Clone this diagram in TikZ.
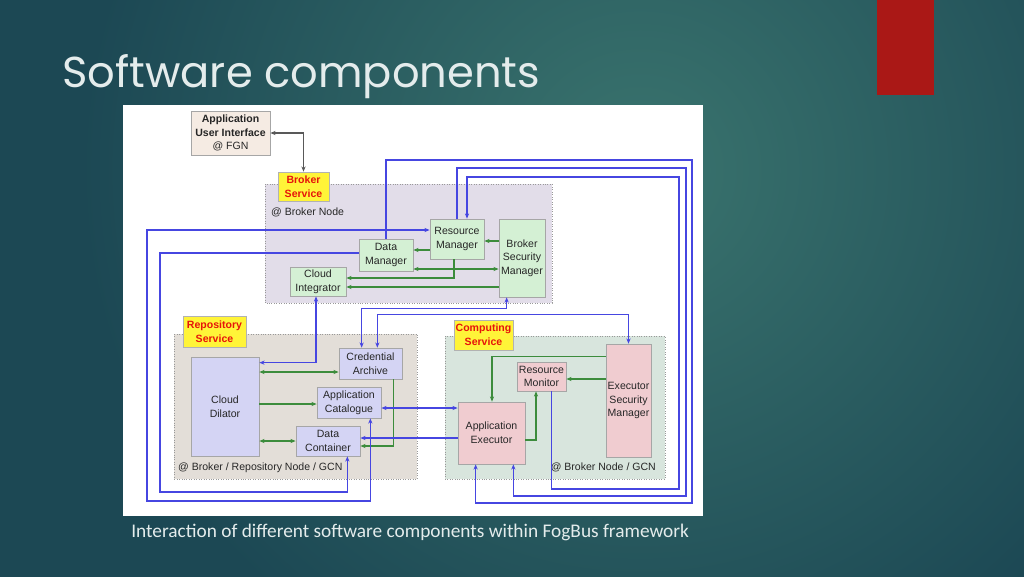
\documentclass[tikz,border=0pt]{standalone}
\usepackage{fontspec}
\setmainfont{Liberation Sans}
\newfontfamily\titlefont{Poppins}
\newfontfamily\captionfont{Carlito}
\usetikzlibrary{arrows.meta,calc}

\definecolor{bgdark}{RGB}{28,72,84}
\definecolor{bglight}{RGB}{58,116,110}
\definecolor{barred}{RGB}{170,24,22}
\definecolor{titlegray}{RGB}{228,236,236}
\definecolor{brkzone}{RGB}{226,221,233}
\definecolor{repzone}{RGB}{227,222,216}
\definecolor{cmpzone}{RGB}{216,229,221}
\definecolor{grfill}{RGB}{212,240,212}
\definecolor{lvfill}{RGB}{212,212,244}
\definecolor{pkfill}{RGB}{240,204,208}
\definecolor{uifill}{RGB}{245,235,227}
\definecolor{ylfill}{RGB}{255,244,56}
\definecolor{svcred}{RGB}{230,20,10}
\definecolor{lnblue}{RGB}{70,70,225}
\definecolor{lngreen}{RGB}{60,140,60}
\pgfdeclareradialshading{slideglow}{\pgfpoint{0bp}{0bp}}{color(0bp)=(bglight); color(14bp)=(bgdark); color(50bp)=(bgdark)}

\begin{document}
\begin{tikzpicture}[x=0.02cm,y=-0.02cm,
    >={Stealth[length=3pt,width=2.4pt]},
    every node/.style={font=\fontsize{6}{7.8}\selectfont, text=black!85},
    sz/.style 2 args={minimum width=#1*0.02cm, minimum height=#2*0.02cm},
    box/.style={draw=#1, inner sep=0pt, align=center},
    brk/.style={box=black!35, fill=grfill},
    rep/.style={box=black!35, fill=lvfill},
    cmp/.style={box=black!35, fill=pkfill},
    ui/.style={box=black!35, fill=uifill},
    svc/.style={box=black!30, fill=ylfill, text=svcred, font=\fontsize{6}{7.8}\selectfont\bfseries},
    zone/.style={draw=black!40, densely dotted},
    bl/.style={draw=lnblue, line width=0.6pt},
    gr/.style={draw=lngreen, line width=0.6pt}]

    % Le fond
    \useasboundingbox (0,0) rectangle (1024,576);
    \clip (0,0) rectangle (1024,576);
    \fill[bgdark] (0,0) rectangle (1024,576);
    \shade[shading=slideglow] (640,170) circle (1000);
    \fill[barred] (877,0) rectangle (934,95);
    \node[anchor=base west, inner sep=0pt, text=titlegray, font=\titlefont\fontsize{24.6}{30}\selectfont] (title) at (62,87) {Software components};
    \node[anchor=base west, inner sep=0pt, text=titlegray, font=\captionfont\fontsize{11}{13}\selectfont] (caption) at (131,537) {Interaction of different software components within FogBus framework};

    % Le panneau
    \fill[white] (123,105) rectangle (703,516);
    \draw[zone, fill=brkzone] (265,184) rectangle (552,303);
    \draw[zone, fill=repzone] (174,334) rectangle (417,479);
    \draw[zone, fill=cmpzone] (445,336) rectangle (665,479);

    % Broker
    \node[ui, sz={79}{44}] (aui) at (230.5,133) {\textbf{Application}\\\textbf{User Interface}\\@ FGN};
    \node[svc, sz={51}{29}] (bs) at (303.5,186.5) {Broker\\Service};
    \node[anchor=west] (bnode) at (265,212) {@ Broker Node};
    \node[brk, sz={54}{40}] (rm) at (457,239) {Resource\\Manager};
    \node[brk, sz={46}{78}] (bsm) at (522,258) {Broker\\Security\\Manager};
    \node[brk, sz={54}{32}] (dm) at (386,255) {Data\\Manager};
    \node[brk, sz={56}{29}] (ci) at (318,281.5) {Cloud\\Integrator};

    % Repository
    \node[svc, sz={63}{31}] (rs) at (214.5,331.5) {Repository\\Service};
    \node[rep, sz={68}{99}] (cd) at (225,406.5) {Cloud\\Dilator};
    \node[rep, sz={63}{31}] (ca) at (370.5,363.5) {Credential\\Archive};
    \node[rep, sz={64}{31}] (ac) at (349,402.5) {Application\\Catalogue};
    \node[rep, sz={64}{30}] (dc) at (328,441) {Data\\Container};
    \node[anchor=west] (rnode) at (172,468) {@ Broker / Repository Node / GCN};

    % Computing
    \node[svc, sz={59}{30}] (cs) at (483.5,335) {Computing\\Service};
    \node[cmp, sz={49}{29}] (rmon) at (541.5,376.5) {Resource\\Monitor};
    \node[cmp, sz={45}{113}] (esm) at (628.5,400.5) {Executor\\Security\\Manager};
    \node[cmp, sz={67}{62}] (ae) at (491.5,433) {Application\\Executor};
    \node[anchor=east] (cnode) at (662,467) {@ Broker Node / GCN};

    % Les liens verts
    \draw[draw=black!65, line width=0.6pt, <->] (aui.east) -| (bs.north);
    \draw[gr,->] ($(bsm.west |- rm.east)+(0,2)$) -- ($(rm.east)+(0,2)$);
    \draw[gr,->] ($(rm.west)+(0,11)$) -- ($(rm.west -| dm.east)+(0,11)$);
    \draw[gr,<->] ($(dm.east)+(0,14)$) -- ($(dm.east -| bsm.west)+(0,14)$);
    \draw[gr,->] ($(rm.south)+(-3,0)$) |- ($(ci.east)+(0,-3.5)$);
    \draw[gr,->] ($(ci.east -| bsm.west)+(0,5.5)$) -- ($(ci.east)+(0,5.5)$);
    \draw[gr,<->] ($(cd.east |- ca.west)+(0,8.5)$) -- ($(ca.west)+(0,8.5)$);
    \draw[gr,->] ($(cd.east |- ac.west)+(0,1.5)$) -- ($(ac.west)+(0,1.5)$);
    \draw[gr,<->] (cd.east |- dc.west) -- (dc.west);
    \draw[gr,->] ($(ca.south east)+(-9,0)$) |- ($(dc.east)+(0,5)$);
    \draw[gr,->] ($(esm.north west)+(0,13)$) -| ($(ae.north)+(0.5,0)$);
    \draw[gr,->] ($(rmon.east -| esm.west)+(0,2.5)$) -- ($(rmon.east)+(0,2.5)$);
    \draw[gr,->] ($(ae.east)+(0,7)$) -| ($(rmon.south)+(-5.5,0)$);

    % Les liens bleus
    \draw[bl,->] (dm.north) |- (692,160) -- (692,503) -| ($(ae.south west)+(18,0)$);
    \draw[bl,->] (rm.north) |- (686,168) -- (686,496) -| ($(ae.south east)+(-12,0)$);
    \draw[bl,->] ($(rmon.south east)+(-15,0)$) |- (679,489) -- (679,177) -| ($(rm.north)+(10,0)$);
    \draw[bl,<->] ($(rm.west)+(0,-9)$) -| (147,501) -| ($(ac.south east)+(-11,0)$);
    \draw[bl,->] ($(dm.west)+(0,-2)$) -| (160,492) -| ($(dc.south east)+(-13,0)$);
    \draw[bl,<->] ($(ci.south)+(-2,0)$) |- ($(cd.north east)+(0,6)$);
    \draw[bl,<->] ($(bsm.south west)+(8,0)$) -- ++(0,11) -| ($(ca.north west)+(23,0)$);
    \draw[bl,<->] ($(ca.north east)+(-25,0)$) |- ($(esm.north)+(0,-29)$) -- (esm.north);
    \draw[bl,<->] ($(ac.east)+(0,5.5)$) -- ($(ac.east -| ae.west)+(0,5.5)$);
    \draw[bl,->] ($(ae.west)+(0,5)$) -- ($(dc.east)+(0,-3)$);
\end{tikzpicture}
\end{document}
